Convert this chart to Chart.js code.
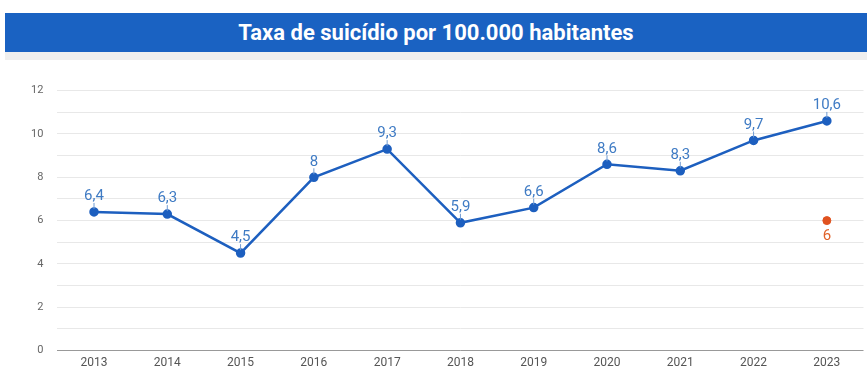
<!DOCTYPE html>
<html>
<head>
<meta charset="utf-8">
<script src="https://cdn.jsdelivr.net/npm/chart.js@4"></script>
<style>
  body { margin: 0; background: #fff; width: 867px; height: 368px; overflow: hidden; position: relative; font-family: Roboto, sans-serif; }
  .band { position: absolute; left: 5px; right: 0; top: 13px; height: 39px; background: #1a62c2; color: #fff;
          font: bold 22px Roboto, sans-serif; text-align: center; line-height: 39px; }
  .shade { position: absolute; left: 5px; right: 0; top: 52px; height: 8px; background: #efefef; }
  #wrap { position: absolute; left: 0; top: 70px; width: 870px; height: 305px; }
</style>
</head>
<body>
<div class="band">Taxa de suicídio por 100.000 habitantes</div>
<div class="shade"></div>
<div id="wrap"><canvas id="myChart"></canvas></div>
<script>
const years = ['2013','2014','2015','2016','2017','2018','2019','2020','2021','2022','2023'];
const taxa = [6.4, 6.3, 4.5, 8, 9.3, 5.9, 6.6, 8.6, 8.3, 9.7, 10.6];
const destaque = [null, null, null, null, null, null, null, null, null, null, 6];

const fmt = v => String(v).replace('.', ',');

const labelPlugin = {
  id: 'labels',
  afterDatasetsDraw(chart) {
    const ctx = chart.ctx;
    ctx.save();
    ctx.font = '15px Roboto, sans-serif';
    ctx.textAlign = 'center';
    chart.getDatasetMeta(0).data.forEach((pt, i) => {
      ctx.strokeStyle = '#6f9bd3';
      ctx.lineWidth = 1;
      ctx.beginPath();
      ctx.moveTo(pt.x, pt.y - 3);
      ctx.lineTo(pt.x, pt.y - 9);
      ctx.stroke();
      ctx.fillStyle = '#3f7bc4';
      ctx.textBaseline = 'bottom';
      ctx.fillText(fmt(taxa[i]), pt.x, pt.y - 8);
    });
    chart.getDatasetMeta(1).data.forEach((pt, i) => {
      if (destaque[i] == null) return;
      ctx.fillStyle = '#e0622a';
      ctx.textBaseline = 'top';
      ctx.fillText(fmt(destaque[i]), pt.x, pt.y + 8);
    });
    ctx.restore();
  }
};

new Chart(document.getElementById('myChart'), {
  type: 'line',
  data: {
    labels: years,
    datasets: [{
      data: taxa,
      borderColor: '#1d5fbf',
      backgroundColor: '#1d5fbf',
      borderWidth: 2.5,
      pointRadius: 3.5,
      tension: 0
    }, {
      data: destaque,
      showLine: false,
      borderColor: '#e0521f',
      backgroundColor: '#e0521f',
      pointRadius: 4
    }]
  },
  options: {
    responsive: true,
    maintainAspectRatio: false,
    animation: false,
    layout: { padding: { top: 9, right: 4, left: 17, bottom: 0 } },
    plugins: { legend: { display: false }, tooltip: { enabled: false } },
    scales: {
      x: {
        offset: true,
        grid: { display: false, drawTicks: false },
        border: { display: false },
        ticks: { color: '#555', font: { size: 12, family: 'Roboto' }, padding: 5 }
      },
      y: {
        min: 0, max: 12,
        ticks: {
          stepSize: 1, color: '#666', font: { size: 11, family: 'Roboto' }, padding: 14,
          callback: v => v % 2 === 0 ? v : ''
        },
        grid: {
          drawTicks: false,
          color: ctx => ctx.tick.value === 0 ? '#999' : '#e8e8e8'
        },
        border: { display: false }
      }
    }
  },
  plugins: [labelPlugin]
});
</script>
</body>
</html>
